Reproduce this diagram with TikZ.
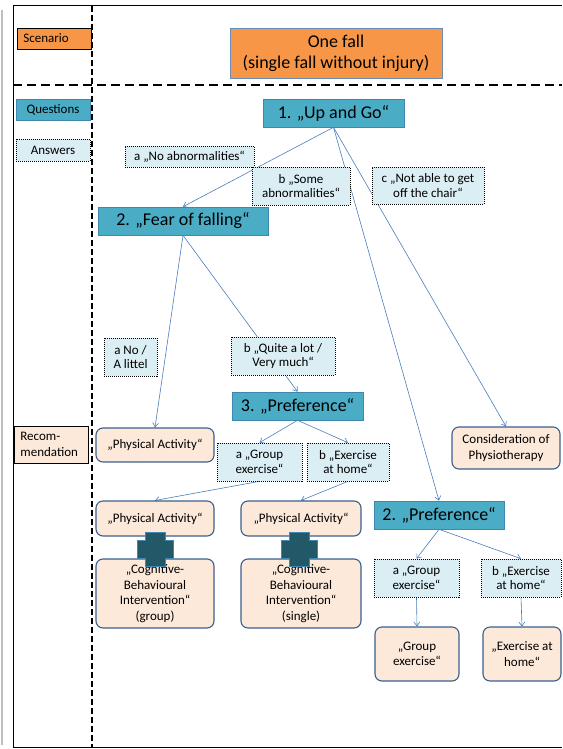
\documentclass[tikz,border=0pt]{standalone}
\usepackage{fontspec}
\setmainfont{Carlito}
\usetikzlibrary{arrows.meta}
\definecolor{orng}{HTML}{F79646}
\definecolor{qfill}{HTML}{4BACC6}
\definecolor{qdraw}{HTML}{3F87B0}
\definecolor{afill}{HTML}{DBEEF4}
\definecolor{rfill}{HTML}{FDE9D9}
\definecolor{rdraw}{HTML}{3B5F8E}
\definecolor{conncol}{HTML}{4A7EBB}
\definecolor{crossc}{HTML}{235868}
\definecolor{scdraw}{HTML}{6A8DB8}
\pgfdeclarelayer{bg}
\pgfsetlayers{bg,main}
\begin{document}
\begin{tikzpicture}[x=1pt,y=-1pt,
  every node/.style={inner sep=0pt, align=center},
  sz/.style 2 args={minimum width=#1pt, minimum height=#2pt},
  legleft/.style={draw=black, line width=0.8pt, font=\fontsize{13}{16}\selectfont, align=left, text width=62pt, inner xsep=6pt, anchor=west},
  legq/.style={fill=qfill, draw=qdraw, line width=0.6pt, font=\fontsize{13}{15}\selectfont},
  scenbox/.style={fill=orng, draw=scdraw, line width=0.6pt, font=\fontsize{18}{21}\selectfont},
  qbox/.style={fill=qfill, draw=qdraw, line width=0.6pt, font=\fontsize{18}{21}\selectfont},
  abox/.style={fill=afill, draw=black, line width=0.7pt, dash pattern=on 1pt off 1pt, font=\fontsize{13}{14.5}\selectfont},
  rbox/.style={fill=rfill, draw=rdraw, line width=1.1pt, rounded corners=7pt, font=\fontsize{13}{15.5}\selectfont},
  conn/.style={draw=conncol, line width=0.6pt, -{Straight Barb[length=4pt,width=6pt]}},
  crossbox/.style={fill=crossc, draw=qdraw, line width=0.6pt},
  frameline/.style={draw=black, line width=1pt},
  vdash/.style={draw=black, line width=1.3pt, dash pattern=on 6pt off 3pt},
  hdash/.style={draw=black, line width=1.5pt, dash pattern=on 9pt off 5pt}
]
\useasboundingbox (0,0) rectangle (562,749);

% legend
\node[legleft, sz={74}{21}, fill=orng] (legS) at (17,38.5) {Scenario};
\node[legq, sz={74}{21}] (legQ) at (53,109.5) {Questions};
\node[abox, sz={74}{22}] (legA) at (53,150) {Answers};
\node[legleft, sz={74}{37}, fill=rfill] (legR) at (14,444.5) {Recom-\\mendation};

% scenario
\node[scenbox, sz={212}{50}] (scen) at (336,53) {One fall\\(single fall without injury)};

% questions
\node[qbox, sz={141}{28}] (q1) at (333.5,113) {1. „Up and Go“};
\node[qbox, sz={170}{28}] (q2) at (183,221) {2. „Fear of falling“};
\node[qbox, sz={131}{28}] (q3) at (297.5,406) {3. „Preference“};
\node[qbox, sz={130}{28}] (q2p) at (439,515) {2. „Preference“};

% answers
\node[abox, sz={129}{21}] (a1) at (189.5,156.5) {a „No abnormalities“};
\node[abox, sz={98}{38}] (b1) at (301,186) {b „Some\\abnormalities“};
\node[abox, sz={112}{37}] (c1) at (428,185.5) {c „Not able to get\\off the chair“};
\node[abox, sz={53}{38}] (a2) at (130.5,357) {a No /\\A littel};
\node[abox, sz={104}{38}] (b2) at (283,356) {b „Quite a lot /\\Very much“};
\node[abox, sz={85}{38}] (a3) at (259.5,462) {a „Group\\exercise“};
\node[abox, sz={82}{38}] (b3) at (348,462) {b „Exercise\\at home“};
\node[abox, sz={85}{38}] (a4) at (416.5,578) {a „Group\\exercise“};
\node[abox, sz={80}{38}] (b4) at (521,578) {b „Exercise\\at home“};

% recommendations
\node[rbox, sz={118}{34}] (pa1) at (155,445) {„Physical Activity“};
\node[rbox, sz={108}{42}] (physio) at (506,448) {Consideration of\\Physiotherapy};
\node[rbox, sz={118}{35}] (pa2) at (155,518.5) {„Physical Activity“};
\node[rbox, sz={120}{35}] (pa3) at (301,518.5) {„Physical Activity“};
\node[rbox, sz={118}{69}] (cbi1) at (155,593.5) {„Cognitive-\\Behavioural\\Intervention“\\(group)};
\node[rbox, sz={120}{69}] (cbi2) at (301,593.5) {„Cognitive-\\Behavioural\\Intervention“\\(single)};
\node[rbox, sz={84}{54}] (ge) at (417,654) {„Group\\exercise“};
\node[rbox, sz={78}{54}] (eh) at (522,654) {„Exercise at\\home“};

% plus signs
\foreach \cx in {155,299}{
  \begin{scope}[shift={(\cx,549)}]
    \path[crossbox] (-10,-17) -- (10,-17) -- (10,-9) -- (18,-9) -- (18,9) -- (10,9) -- (10,17) -- (-10,17) -- (-10,9) -- (-18,9) -- (-18,-9) -- (-10,-9) -- cycle;
  \end{scope}
}

\begin{pgfonlayer}{bg}
  % frame
  \draw[draw=black!25, line width=1.5pt] (2,10) -- (2,745);
  \draw[frameline] (562,6) -- (13,6) -- (13,747) -- (562,747);
  \draw[vdash] (92,6) -- (92,747);
  \draw[hdash] (13,85) -- (562,85);
  % connectors
  \draw[conn] (q1.south) -- (q2.north);
  \draw[conn] (q1.south) -- (q2p.north);
  \draw[conn] (q1.south) -- (physio.north);
  \draw[conn] (q2.south) -- (pa1.north);
  \draw[conn] (q2.south) -- (q3.north);
  \draw[conn] (q3.south) -- (a3.north);
  \draw[conn] (q3.south) -- (b3.north);
  \draw[conn] (a3.south) -- (pa2.north);
  \draw[conn] (b3.south) -- (pa3.north);
  \draw[conn] (q2p.south) -- (a4.north);
  \draw[conn] (q2p.south) -- (b4.north);
  \draw[conn] (a4.south) -- (ge.north);
  \draw[conn] (b4.south) -- (eh.north);
\end{pgfonlayer}
\end{tikzpicture}
\end{document}
